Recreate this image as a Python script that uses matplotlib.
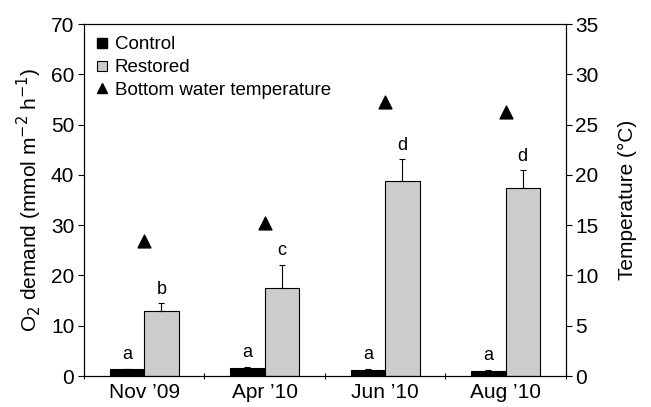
import numpy as np
import matplotlib
matplotlib.use('Agg')
import matplotlib.pyplot as plt
from matplotlib.lines import Line2D

plt.rcParams['font.family'] = ['Liberation Sans', 'DejaVu Sans']

months = ['Nov \u201909', 'Apr \u201910', 'Jun \u201910', 'Aug \u201910']
control = [1.4, 1.6, 1.3, 1.1]
control_err = [0.1, 0.2, 0.1, 0.2]
restored = [12.9, 17.5, 38.8, 37.3]
restored_err = [1.6, 4.6, 4.3, 3.6]
temperature = [13.4, 15.2, 27.2, 26.3]
letters_control = ['a', 'a', 'a', 'a']
letters_restored = ['b', 'c', 'd', 'd']

x = np.arange(len(months))
w = 0.286

fig = plt.figure(figsize=(6.51, 4.07), dpi=100)
ax = fig.add_axes([0.129, 0.076, 0.740, 0.865])

ax.bar(x - w/2, control, w, color='black', edgecolor='black', linewidth=0.8)
ax.bar(x + w/2, restored, w, color='#cccccc', edgecolor='black', linewidth=0.8)
ax.errorbar(x - w/2, control, yerr=[np.zeros(4), control_err], fmt='none',
            ecolor='black', elinewidth=0.8, capsize=2.5, capthick=0.8)
ax.errorbar(x + w/2, restored, yerr=[np.zeros(4), restored_err], fmt='none',
            ecolor='black', elinewidth=0.8, capsize=2.5, capthick=0.8)

# significance letters
for i in range(len(months)):
    ax.annotate(letters_control[i], (x[i] - w/2, control[i] + control_err[i]),
                xytext=(0, 4), textcoords='offset points', ha='center', va='bottom', fontsize=13)
    ax.annotate(letters_restored[i], (x[i] + w/2, restored[i] + restored_err[i]),
                xytext=(0, 4), textcoords='offset points', ha='center', va='bottom', fontsize=13)

ax.set_xlim(-0.5, 3.5)
ax.set_ylim(0, 70)
ax.set_yticks(range(0, 71, 10))
ax.set_xticks(x)
ax.set_xticklabels(months)
ax.set_xticks(np.arange(-0.5, 3.6, 1), minor=True)
ax.tick_params(axis='x', which='major', length=0, pad=5, labelsize=15)
ax.tick_params(axis='x', which='minor', length=4, direction='inout', width=0.8)
ax.tick_params(axis='y', length=4, width=0.8, labelsize=15, pad=3)
ax.set_ylabel('O$_2$ demand (mmol m$^{-2}$ h$^{-1}$)', fontsize=15, labelpad=5)

ax2 = ax.twinx()
ax2.scatter(x, temperature, marker='^', s=85, color='black', zorder=5)
ax2.set_ylim(0, 35)
ax2.set_yticks(range(0, 36, 5))
ax2.tick_params(axis='y', length=4, width=0.8, labelsize=15, pad=3)
ax2.set_ylabel('Temperature (\u00b0C)', fontsize=15, labelpad=14)

for a in (ax, ax2):
    for s in a.spines.values():
        s.set_linewidth(0.8)

handles = [
    Line2D([], [], marker='s', linestyle='none', markerfacecolor='black', markeredgecolor='black', markersize=6.5),
    Line2D([], [], marker='s', linestyle='none', markerfacecolor='#cccccc', markeredgecolor='black', markersize=6.5, markeredgewidth=0.8),
    Line2D([], [], marker='^', linestyle='none', color='black', markersize=7.5),
]
ax.legend(handles, ['Control', 'Restored', 'Bottom water temperature'], loc='upper left',
          frameon=False, fontsize=13.5, handlelength=0.6, handletextpad=0.4, labelspacing=0.3,
          borderaxespad=0.4, borderpad=0.25)

fig.savefig('out.png', dpi=100)
